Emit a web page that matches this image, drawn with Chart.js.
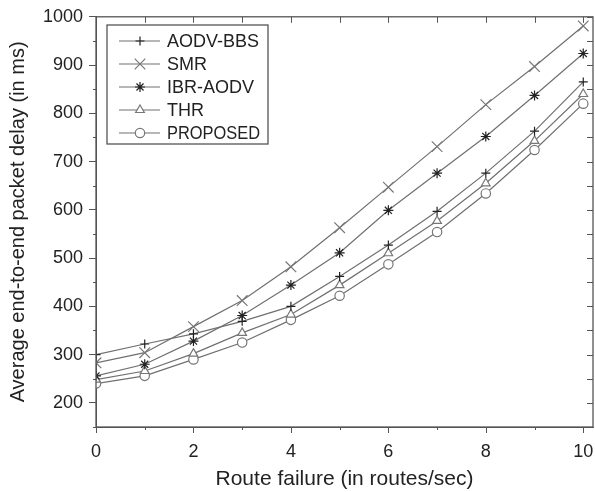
<!DOCTYPE html>
<html>
<head>
<meta charset="utf-8">
<script src="https://cdn.jsdelivr.net/npm/chart.js@4/dist/chart.umd.min.js"></script>
<style>
  html, body { margin: 0; padding: 0; background: #fff; }
  #wrap { width: 595px; height: 492px; }
</style>
</head>
<body>
<div id="wrap"><canvas id="chart" width="595" height="492"></canvas></div>
<script>
// values
const routeFailure = [0, 1, 2, 3, 4, 5, 6, 7, 8, 9, 10];
const aodvBbs  = [300, 322, 343, 369, 400, 462, 527, 597, 676, 763, 865];
const smr      = [283, 304, 358, 412, 482, 563, 647, 731, 818, 897, 981];
const ibrAodv  = [256, 280, 328, 381, 444, 511, 599, 676, 752, 837, 924];
const thr      = [248, 266, 302, 345, 383, 444, 510, 577, 655, 743, 840];
const proposed = [240, 256, 290, 325, 372, 422, 487, 554, 634, 724, 820];

const xTicks = [0, 2, 4, 6, 8, 10];
const xMinor = [1, 3, 5, 7, 9];
const yTicks = [200, 300, 400, 500, 600, 700, 800, 900, 1000];
const yMinor = [150, 250, 350, 450, 550, 650, 750, 850, 950];

const FONT = "'Liberation Sans', Arial, sans-serif";
const AXIS = "#555";

function series(label, values, style, radius, dark) {
  return {
    label: label,
    data: routeFailure.map((x, i) => ({ x: x, y: values[i] })),
    borderColor: "#707070",
    borderWidth: 1.2,
    pointStyle: style,
    pointRadius: radius,
    pointBorderColor: dark ? "#222" : "#777",
    pointBackgroundColor: "#fff",
    pointBorderWidth: 1.2,
    tension: 0
  };
}

const frame = {
  id: "frame",
  afterDraw(chart) {
    const ctx = chart.ctx;
    const a = chart.chartArea;
    const xs = chart.scales.x, ys = chart.scales.y;
    ctx.save();
    ctx.strokeStyle = AXIS;
    ctx.lineWidth = 1.3;
    ctx.strokeRect(a.left, a.top, a.right - a.left, a.bottom - a.top);

    ctx.lineWidth = 1;
    ctx.beginPath();
    // top ticks, inward
    routeFailure.forEach(v => {
      const px = Math.round(xs.getPixelForValue(v)) + 0.5;
      ctx.moveTo(px, a.top); ctx.lineTo(px, a.top + 6);
    });
    // bottom ticks, outward
    xTicks.forEach(v => {
      const px = Math.round(xs.getPixelForValue(v)) + 0.5;
      ctx.moveTo(px, a.bottom); ctx.lineTo(px, a.bottom + 6);
    });
    xMinor.forEach(v => {
      const px = Math.round(xs.getPixelForValue(v)) + 0.5;
      ctx.moveTo(px, a.bottom); ctx.lineTo(px, a.bottom + 3);
    });
    // right ticks inward, left minor outward
    yTicks.concat(yMinor).forEach(v => {
      const py = Math.round(ys.getPixelForValue(v)) + 0.5;
      ctx.moveTo(a.right, py); ctx.lineTo(a.right - 6, py);
    });
    yMinor.forEach(v => {
      const py = Math.round(ys.getPixelForValue(v)) + 0.5;
      ctx.moveTo(a.left, py); ctx.lineTo(a.left - 3, py);
    });
    ctx.stroke();

    // legend box inside the plot
    const bx = 107, by = 25, bw = 161, bh = 119;
    ctx.fillStyle = "#fff";
    ctx.fillRect(bx, by, bw, bh);
    ctx.strokeStyle = "#555";
    ctx.lineWidth = 1.3;
    ctx.strokeRect(bx, by, bw, bh);
    ctx.font = "18px " + FONT;
    ctx.textBaseline = "middle";
    chart.data.datasets.forEach((ds, i) => {
      const y = 41 + i * 23;
      ctx.strokeStyle = ds.borderColor;
      ctx.lineWidth = ds.borderWidth;
      ctx.beginPath();
      ctx.moveTo(119, y); ctx.lineTo(160, y);
      ctx.stroke();
      ctx.strokeStyle = ds.pointBorderColor;
      ctx.fillStyle = ds.pointBackgroundColor;
      ctx.lineWidth = ds.pointBorderWidth;
      Chart.helpers.drawPoint(ctx, { pointStyle: ds.pointStyle, radius: ds.pointRadius, rotation: 0, borderWidth: ds.pointBorderWidth }, 140, y);
      ctx.fillStyle = "#222";
      ctx.fillText(ds.label, 167, y + 1, 93);
    });
    ctx.restore();
  }
};

new Chart(document.getElementById("chart"), {
  type: "line",
  data: {
    datasets: [
      series("AODV-BBS", aodvBbs, "cross", 4.5, true),
      series("SMR", smr, "crossRot", 7.5, false),
      series("IBR-AODV", ibrAodv, "star", 5, true),
      series("THR", thr, "triangle", 5, false),
      series("PROPOSED", proposed, "circle", 4.7, false)
    ]
  },
  options: {
    responsive: false,
    animation: false,
    layout: { autoPadding: false, padding: { top: 15, right: 2, left: 0, bottom: 0 } },
    plugins: { legend: { display: false }, tooltip: { enabled: false } },
    scales: {
      x: {
        type: "linear",
        min: 0,
        max: 10.2,
        afterBuildTicks: s => { s.ticks = xTicks.map(v => ({ value: v })); },
        afterFit: s => { s.height = 65; },
        ticks: { color: "#222", font: { family: FONT, size: 18 }, padding: 0, callback: v => String(v) },
        grid: { drawOnChartArea: false, color: "rgba(0,0,0,0)", tickLength: 14 },
        border: { color: AXIS },
        title: { display: true, text: "Route failure (in routes/sec)", color: "#222", font: { family: FONT, size: 21 }, padding: { top: 0, bottom: 0 } }
      },
      y: {
        min: 150,
        max: 1000,
        afterBuildTicks: s => { s.ticks = yTicks.map(v => ({ value: v })); },
        afterFit: s => { s.width = 96; },
        ticks: { color: "#222", font: { family: FONT, size: 18 }, padding: 6, callback: v => String(v) },
        grid: { drawOnChartArea: false, color: AXIS, tickLength: 7 },
        border: { color: AXIS },
        title: { display: true, text: "Average end-to-end packet delay (in ms)", color: "#222", font: { family: FONT, size: 20 }, padding: { top: 6, bottom: 0 } }
      }
    }
  },
  plugins: [frame]
});
</script>
</body>
</html>
